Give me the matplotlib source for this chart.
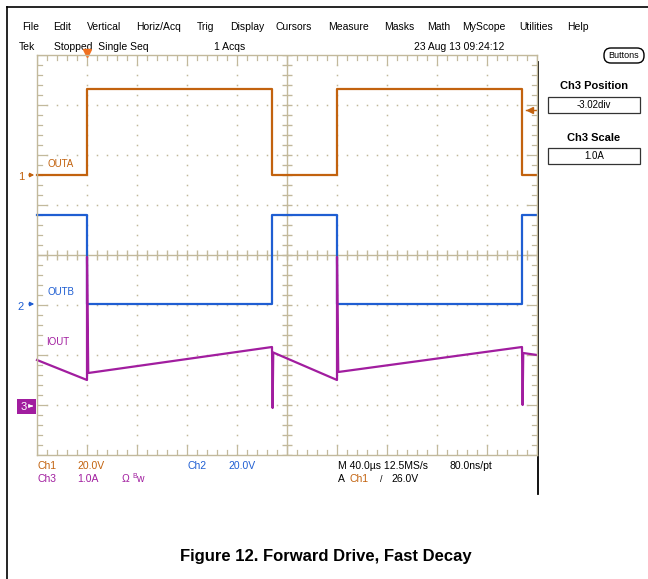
import numpy as np
import matplotlib
matplotlib.use('Agg')
import matplotlib.pyplot as plt
from matplotlib.patches import Rectangle, FancyBboxPatch
from matplotlib.transforms import blended_transform_factory

# channel settings (div units on screen)
us_per_div = 40.0
ch1_scale, ch1_pos = 20.0, 1.6     # V/div, div
ch2_scale, ch2_pos = 20.0, -0.98
ch3_scale, ch3_pos = 1.0, -3.02    # A/div
trig_time = -160.0                 # us
trig_level = 26.0                  # V on Ch1

# waveforms
outa_t = [-200, -160, -160, -12, -12, 40, 40, 188, 188, 200]
outa_v = [0, 0, 34.2, 34.2, 0, 0, 34.2, 34.2, 0, 0]

outb_t = [-200, -160, -160, -12, -12, 40, 40, 188, 188, 200]
outb_v = [35.6, 35.6, 0, 0, 35.6, 35.6, 0, 0, 35.6, 35.6]

iout_t = [-200, -160, -160, -159, -12, -11.5, -11, 40, 40, 41, 188, 188.5, 189, 200]
iout_a = [0.92, 0.52, 2.98, 0.66, 1.18, -0.04, 1.07, 0.52, 2.98, 0.68, 1.18, 0.02, 1.06, 1.02]

menu_items = ['File', 'Edit', 'Vertical', 'Horiz/Acq', 'Trig', 'Display', 'Cursors',
              'Measure', 'Masks', 'Math', 'MyScope', 'Utilities', 'Help']
menu_x = [22, 53, 87, 136, 197, 230, 276, 328, 384, 427, 462, 519, 567]

C_GRAT = '#c2b99c'
C_CH1 = '#c2620e'
C_CH2 = '#1f5ed2'
C_CH3 = '#a11d9f'
FONT = 'Liberation Sans'

W, H = 648, 579
fig = plt.figure(figsize=(W / 100, H / 100), dpi=100)
fig.patch.set_facecolor('white')

# overlay in pixel units for the screen furniture
ui = fig.add_axes([0, 0, 1, 1])
ui.set_xlim(0, W)
ui.set_ylim(H, 0)
ui.axis('off')

ui.plot([7, 7], [7, H], color='black', lw=1.2)
ui.plot([7, W], [7, 7], color='black', lw=1.2)
ui.plot([537.5, 537.5], [62, 494], color='black', lw=1.3)

for name, x in zip(menu_items, menu_x):
    ui.text(x, 27, name, fontsize=7.5, family=FONT, va='center', ha='left')
ui.text(19, 47, 'Tek', fontsize=7.5, family=FONT, va='center')
ui.text(54, 47, 'Stopped  Single Seq', fontsize=7.5, family=FONT, va='center')
ui.text(214, 47, '1 Acqs', fontsize=7.5, family=FONT, va='center')
ui.text(414, 47, '23 Aug 13 09:24:12', fontsize=7.5, family=FONT, va='center')

ui.add_patch(FancyBboxPatch((604, 48), 40, 15, boxstyle='round,pad=0,rounding_size=7',
                            fc='white', ec='black', lw=1.0))
ui.text(624, 55.5, 'Buttons', fontsize=6.5, family=FONT, ha='center', va='center')

ui.text(594, 86, 'Ch3 Position', fontsize=8, family=FONT, weight='bold', ha='center', va='center')
ui.add_patch(Rectangle((548, 97), 92, 16, fc='white', ec='#333333', lw=0.9))
ui.text(594, 105, '-3.02div', fontsize=7, family=FONT, ha='center', va='center')
ui.text(594, 138, 'Ch3 Scale', fontsize=8, family=FONT, weight='bold', ha='center', va='center')
ui.add_patch(Rectangle((548, 148), 92, 16, fc='white', ec='#333333', lw=0.9))
ui.text(594, 156, '1.0A', fontsize=7, family=FONT, ha='center', va='center')

# readouts below the graticule
ui.text(37, 466, 'Ch1', color=C_CH1, fontsize=7.5, family=FONT, va='center')
ui.text(77, 466, '20.0V', color=C_CH1, fontsize=7.5, family=FONT, va='center')
ui.text(188, 466, 'Ch2', color=C_CH2, fontsize=7.5, family=FONT, va='center')
ui.text(228, 466, '20.0V', color=C_CH2, fontsize=7.5, family=FONT, va='center')
ui.text(37, 479, 'Ch3', color=C_CH3, fontsize=7.5, family=FONT, va='center')
ui.text(77, 479, '1.0A', color=C_CH3, fontsize=7.5, family=FONT, va='center')
ui.text(122, 479, 'Ω', color=C_CH3, fontsize=7.5, family=FONT, va='center')
ui.text(132, 476, 'B', color=C_CH3, fontsize=5, family=FONT, va='center')
ui.text(136, 479, 'w', color=C_CH3, fontsize=7.5, family=FONT, va='center')
ui.text(338, 466, 'M 40.0µs 12.5MS/s', fontsize=7.5, family=FONT, va='center')
ui.text(450, 466, '80.0ns/pt', fontsize=7.5, family=FONT, va='center')
ui.text(338, 479, 'A', fontsize=7.5, family=FONT, va='center')
ui.text(350, 479, 'Ch1', color=C_CH1, fontsize=7.5, family=FONT, va='center')
ui.text(380, 479, '/', fontsize=6.5, family=FONT, va='center')
ui.text(391, 479, '26.0V', fontsize=7.5, family=FONT, va='center')

ui.text(326, 557, 'Figure 12. Forward Drive, Fast Decay', fontsize=12, family=FONT,
        weight='bold', ha='center', va='center')

# scope graticule, in divisions
ax = fig.add_axes([37 / W, 1 - 455 / H, 500 / W, 400 / H])
ax.set_xlim(-5, 5)
ax.set_ylim(-4, 4)
ax.patch.set_alpha(0)
ax.set_xticks([])
ax.set_yticks([])
for s in ax.spines.values():
    s.set_color(C_GRAT)
    s.set_linewidth(1.0)

fine_x = np.arange(-5, 5.001, 0.2)
fine_y = np.arange(-4, 4.001, 0.2)
for gx in range(-4, 5):
    if gx != 0:
        ax.plot(np.full_like(fine_y, gx), fine_y, ls='none', marker='s', ms=1.1,
                mew=0, color=C_GRAT)
for gy in range(-3, 4):
    if gy != 0:
        ax.plot(fine_x, np.full_like(fine_x, gy), ls='none', marker='s', ms=1.1,
                mew=0, color=C_GRAT)

ax.axhline(0, color=C_GRAT, lw=1.0)
ax.axvline(0, color=C_GRAT, lw=1.0)
ax.plot(fine_x, np.zeros_like(fine_x), ls='none', marker='|', ms=7, mew=1.0, color=C_GRAT)
ax.plot(np.zeros_like(fine_y), fine_y, ls='none', marker='_', ms=7, mew=1.0, color=C_GRAT)

for fx in fine_x:
    L = 0.18 if abs(fx - round(fx)) < 1e-6 else 0.1
    ax.plot([fx, fx], [4, 4 - L], color=C_GRAT, lw=0.9)
    ax.plot([fx, fx], [-4, -4 + L], color=C_GRAT, lw=0.9)
for fy in fine_y:
    L = 0.18 if abs(fy - round(fy)) < 1e-6 else 0.1
    ax.plot([-5, -5 + L], [fy, fy], color=C_GRAT, lw=0.9)
    ax.plot([5, 5 - L], [fy, fy], color=C_GRAT, lw=0.9)


def to_div(vals, scale, pos):
    return np.asarray(vals, dtype=float) / scale + pos


def t_div(ts):
    return np.asarray(ts, dtype=float) / us_per_div


ax.plot(t_div(outa_t), to_div(outa_v, ch1_scale, ch1_pos), color=C_CH1, lw=1.6, clip_on=False)
ax.plot(t_div(outb_t), to_div(outb_v, ch2_scale, ch2_pos), color=C_CH2, lw=1.6, clip_on=False)
ax.plot(t_div(iout_t), to_div(iout_a, ch3_scale, ch3_pos), color=C_CH3, lw=1.6, clip_on=False)

# trigger markers
ax.plot([trig_time / us_per_div], [4.05], marker='v', ms=6, color='#f07020', clip_on=False)
ax.plot([4.85], [trig_level / ch1_scale + ch1_pos], marker='<', ms=4, color=C_CH1)
ax.plot([4.78, 4.98], [trig_level / ch1_scale + ch1_pos] * 2, color=C_CH1, lw=1.0)

# channel labels and ground markers
tr = blended_transform_factory(ax.transAxes, ax.transData)
ax.text(0.02, 1.72, 'OUTA', color=C_CH1, fontsize=7, family=FONT, va='bottom', transform=tr)
ax.text(0.02, ch2_pos + 0.14, 'OUTB', color=C_CH2, fontsize=7, family=FONT, va='bottom',
        transform=tr)
ax.text(0.018, -1.74, 'IOUT', color=C_CH3, fontsize=7, family=FONT, va='center', transform=tr)

ax.text(-0.026, ch1_pos - 0.05, '1', color=C_CH1, fontsize=8, family=FONT,
        ha='right', va='center', transform=tr)
ax.annotate('', xy=(0.0, ch1_pos), xytext=(-0.022, ch1_pos), xycoords=tr, textcoords=tr,
            arrowprops=dict(arrowstyle='-|>', color=C_CH1, lw=0.9, mutation_scale=6))
ax.text(-0.026, ch2_pos - 0.05, '2', color=C_CH2, fontsize=8, family=FONT,
        ha='right', va='center', transform=tr)
ax.annotate('', xy=(0.0, ch2_pos), xytext=(-0.022, ch2_pos), xycoords=tr, textcoords=tr,
            arrowprops=dict(arrowstyle='-|>', color=C_CH2, lw=0.9, mutation_scale=6))
ax.add_patch(Rectangle((-0.04, ch3_pos - 0.15), 0.038, 0.3, transform=tr,
                       fc=C_CH3, ec='none', clip_on=False))
ax.text(-0.026, ch3_pos - 0.03, '3', color='white', fontsize=8, family=FONT,
        ha='center', va='center', transform=tr)
ax.annotate('', xy=(-0.003, ch3_pos), xytext=(-0.016, ch3_pos), xycoords=tr, textcoords=tr,
            arrowprops=dict(arrowstyle='-|>', color='white', lw=0.8, mutation_scale=5))

fig.savefig('out.png', dpi=100)
